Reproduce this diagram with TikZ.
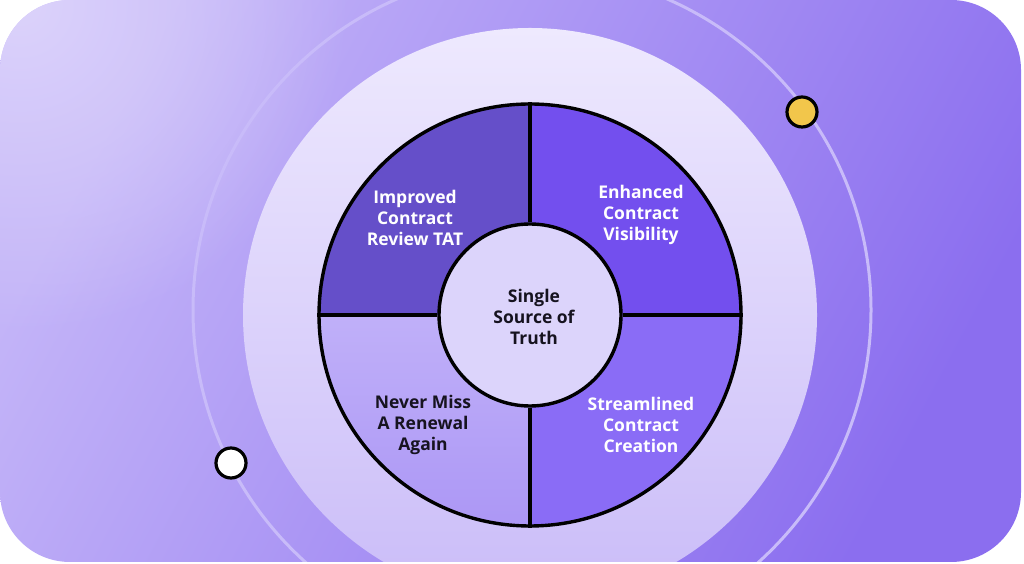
\documentclass[tikz,border=0pt]{standalone}
\usepackage{fontspec}
\usetikzlibrary{fadings}
\setmainfont{Open Sans}
\tikzfading[name=glowfade, inner color=transparent!0, outer color=transparent!100]
\begin{document}
\begin{tikzpicture}[x=1pt,y=1pt,
  lbl/.style={align=center,font=\fontsize{17.5}{20.8}\selectfont\bfseries,inner sep=0pt},
  wlbl/.style={lbl,text=white},
  dlbl/.style={lbl,text=txtdark},
  edge/.style={draw=black,line width=3.4pt},
  dot/.style={circle,draw=black,line width=3.2pt,minimum size=30pt,inner sep=0pt}]
\definecolor{bgA}{HTML}{DCD3FB}
\definecolor{bgL}{HTML}{C3B4F8}
\definecolor{bgB}{HTML}{8B6EEF}
\definecolor{diskA}{HTML}{EEE9FE}
\definecolor{diskB}{HTML}{CABCF8}
\definecolor{ringc}{HTML}{C8BBF9}
\definecolor{qTL}{HTML}{654FC9}
\definecolor{qTR}{HTML}{734FEE}
\definecolor{qBR}{HTML}{8A6CF6}
\definecolor{qBLa}{HTML}{C0B0F9}
\definecolor{qBLb}{HTML}{AC97F5}
\definecolor{corec}{HTML}{DCD4FB}
\definecolor{txtdark}{HTML}{16131F}
\definecolor{dotY}{HTML}{F2C64B}
\useasboundingbox (0,0) rectangle (1024,564);
% background card
\begin{scope}
\clip[rounded corners=70pt] (0,2) rectangle (1021,564);
\shade[top color=bgL,bottom color=bgB,shading angle=62] (0,2) rectangle (1021,564);
\fill[bgA,path fading=glowfade] (20,560) circle[radius=330];
\shade[top color=diskA,bottom color=diskB] (530,249) circle[radius=287];
\draw[ringc,line width=3pt] (532,254) circle[radius=339];
\end{scope}
% quadrants
\coordinate (C) at (530,249);
\def\Ro{211}\def\Ri{91}
\fill[qTL] (530-\Ro,249) arc[start angle=180,end angle=90,radius=\Ro] -- (530,249+\Ri) arc[start angle=90,end angle=180,radius=\Ri] -- cycle;
\fill[qTR] (530,249+\Ro) arc[start angle=90,end angle=0,radius=\Ro] -- (530+\Ri,249) arc[start angle=0,end angle=90,radius=\Ri] -- cycle;
\fill[qBR] (530+\Ro,249) arc[start angle=0,end angle=-90,radius=\Ro] -- (530,249-\Ri) arc[start angle=-90,end angle=0,radius=\Ri] -- cycle;
\shade[top color=qBLa,bottom color=qBLb] (530,249-\Ro) arc[start angle=-90,end angle=-180,radius=\Ro] -- (530-\Ri,249) arc[start angle=180,end angle=270,radius=\Ri] -- cycle;
% outlines
\node[circle,edge,minimum size=2*\Ro pt,inner sep=0pt] (outer) at (C) {};
\node[circle,edge,fill=corec,minimum size=2*\Ri pt,inner sep=0pt] (core) at (C) {};
\draw[edge] (core.north) -- (outer.north);
\draw[edge] (core.south) -- (outer.south);
\draw[edge] (core.west) -- (outer.west);
\draw[edge] (core.east) -- (outer.east);
% labels
\node[dlbl] (truth) at (534,247) {Single\\Source of\\Truth};
\node[wlbl] (review) at (415,346) {Improved\\Contract\\Review TAT};
\node[wlbl] (visib) at (641,349) {Enhanced\\Contract\\Visibility};
\node[dlbl] (renew) at (423,139) {Never Miss\\A Renewal\\Again};
\node[wlbl] (create) at (641,139) {Streamlined\\Contract\\Creation};
% dots
\node[dot,fill=dotY] (ydot) at (802,452) {};
\node[dot,fill=white] (wdot) at (231,101) {};
\end{tikzpicture}
\end{document}
